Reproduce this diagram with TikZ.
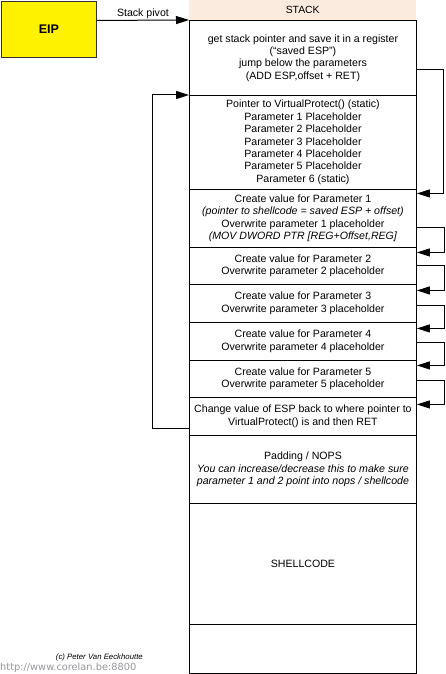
\documentclass[tikz,border=0pt]{standalone}
\usepackage{fontspec}
\setmainfont{Liberation Sans}
\newfontfamily\urlfont{DejaVu Sans}
\usetikzlibrary{arrows.meta}
\definecolor{peach}{RGB}{251,234,222}
\definecolor{urlgray}{RGB}{150,150,155}
\begin{document}
\begin{tikzpicture}[x=1pt,y=-1pt,
  txt/.style={font=\fontsize{10.6}{12.4}\selectfont},
  cell/.style={draw=black, line width=0.9pt, minimum width=227pt, anchor=north west,
    inner sep=1pt, align=center, txt},
  conn/.style={draw=black, line width=1pt, -{Triangle[length=13pt,width=8pt]}}]
\useasboundingbox (0,0) rectangle (446,674);
% EIP
\node[draw=black!80, fill=yellow, line width=0.9pt, anchor=north west,
  minimum width=95pt, minimum height=56pt,
  font=\fontsize{12.5}{14}\selectfont\bfseries] (eip) at (1,1) {EIP};
% stack
\node[fill=peach, minimum width=227pt, minimum height=20pt, anchor=north west,
  inner sep=0pt, font=\fontsize{10.4}{12}\selectfont] (b0) at (189,0) {STACK};
\node[cell, minimum height=75pt] (b1) at (189,20)
  {get stack pointer and save it in a register\\(“saved ESP”)\\jump below the parameters\\(ADD ESP,offset + RET)};
\node[cell, minimum height=94pt] (b2) at (189,95)
  {Pointer to VirtualProtect() (static)\\Parameter 1 Placeholder\\Parameter 2 Placeholder\\Parameter 3 Placeholder\\Parameter 4 Placeholder\\Parameter 5 Placeholder\\Parameter 6 (static)};
\node[cell, minimum height=58pt] (b3) at (189,189)
  {Create value for Parameter 1\\\textit{(pointer to shellcode = saved ESP + offset)}\\Overwrite parameter 1 placeholder\\\textit{(MOV DWORD PTR [REG+Offset,REG]}};
\node[cell, minimum height=37pt] (b4) at (189,247)
  {Create value for Parameter 2\\Overwrite parameter 2 placeholder};
\node[cell, minimum height=38pt] (b5) at (189,284)
  {Create value for Parameter 3\\Overwrite parameter 3 placeholder};
\node[cell, minimum height=38pt] (b6) at (189,322)
  {Create value for Parameter 4\\Overwrite parameter 4 placeholder};
\node[cell, minimum height=37pt] (b7) at (189,360)
  {Create value for Parameter 5\\Overwrite parameter 5 placeholder};
\node[cell, minimum height=38pt] (b8) at (189,397)
  {Change value of ESP back to where pointer to\\VirtualProtect() is and then RET};
\node[cell, minimum height=68pt] (b9) at (189,435)
  {Padding / NOPS\\\textit{You can increase/decrease this to make sure}\\\textit{parameter 1 and 2 point into nops / shellcode}};
\node[cell, minimum height=121pt] (b10) at (189,503) {SHELLCODE};
\node[cell, minimum height=49pt] (b11) at (189,624) {};
% connectors
\draw[conn] ([yshift=9pt]eip.east) -- node[midway, above=1pt, txt, inner sep=0pt] (lab) {Stack pivot} (b1.north west);
\draw[conn] ([yshift=-11.5pt]b1.east) -- ++(27,0) |- ([yshift=25pt]b3.east);
\draw[conn] ([yshift=-9pt]b3.east) -- ++(28,0) |- ([yshift=13.5pt]b4.east);
\draw[conn] ([yshift=0pt]b4.east) -- ++(28,0) |- ([yshift=13pt]b5.east);
\draw[conn] ([yshift=-2pt]b5.east) -- ++(28,0) |- ([yshift=13pt]b6.east);
\draw[conn] ([yshift=-1pt]b6.east) -- ++(28,0) |- ([yshift=13.5pt]b7.east);
\draw[conn] ([yshift=-1.5pt]b7.east) -- ++(28,0) |- ([yshift=12pt]b8.east);
\draw[conn] ([yshift=-12pt]b8.west) -- ++(-37,0) |- (b2.north west);
% footer
\node[anchor=east, inner sep=0pt, font=\fontsize{7.8}{9}\selectfont\itshape] (copy) at (143,657) {(c) Peter Van Eeckhoutte};
\node[anchor=west, inner sep=0pt, text=urlgray, font=\urlfont\fontsize{9.8}{11}\selectfont] (url) at (0,667.5) {http://www.corelan.be:8800};
\end{tikzpicture}
\end{document}
